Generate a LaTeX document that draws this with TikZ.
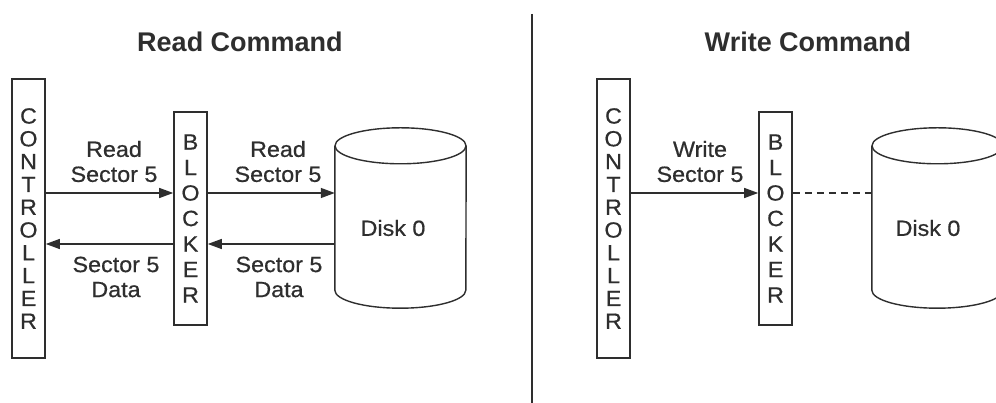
\documentclass[tikz,border=0pt]{standalone}
\usepackage{fontspec}
\setmainfont{Liberation Sans}
\newfontfamily\lblfont[FakeBold=0.6, FakeStretch=1.06]{Liberation Sans}
\usetikzlibrary{arrows.meta}
\definecolor{ink}{HTML}{2E2E2E}
\tikzset{
  lbl/.style={text=ink, font=\lblfont\fontsize{22}{25}\selectfont, align=center, inner sep=0pt},
  ttl/.style={text=ink, font=\bfseries\fontsize{27}{30}\selectfont, inner sep=0pt},
  ctrlbox/.style={draw=ink, line width=1.6pt, minimum width=33pt, minimum height=279pt, inner sep=0pt, align=center, text=ink, font=\lblfont\fontsize{22}{22.8}\selectfont},
  blkbox/.style={draw=ink, line width=1.6pt, minimum width=33pt, minimum height=213pt, inner sep=0pt, align=center, text=ink, font=\lblfont\fontsize{22}{25.5}\selectfont},
  diskbody/.style={minimum width=131pt, minimum height=144pt, inner sep=0pt},
  cyl/.style={draw=ink, line width=1.4pt},
  conn/.style={draw=ink, line width=1.3pt},
  arr/.style={conn, -{Triangle[length=14pt,width=10pt]}},
}
\begin{document}
\begin{tikzpicture}[x=1pt,y=1pt]
\clip (0,0) rectangle (996,403);
\fill[white] (0,0) rectangle (996,403);

% divider
\coordinate (divtop) at (532,389);
\coordinate (divbot) at (532,0);
\draw[conn, line width=1.5pt] (divtop) -- (divbot);

% ---------- Read command ----------
\node[ttl] (t1) at (240,361) {Read Command};
\node[ctrlbox] (c1) at (28.5,184.5) {C\\O\\N\\T\\R\\O\\L\\L\\E\\R};
\node[blkbox] (b1) at (190.5,184.5) {B\\L\\O\\C\\K\\E\\R};
\node[diskbody] (d1) at (400.5,185) {};
\draw[cyl] (d1.north west) -- (d1.south west) arc[start angle=180, end angle=360, x radius=65.5pt, y radius=18pt] -- (d1.north east);
\draw[cyl] (d1.north) ellipse[x radius=65.5pt, y radius=18pt];
\node[lbl] (dl1) at (393,175) {Disk 0};

\draw[arr] (c1.east |- 0,210) -- (b1.west |- 0,210);
\draw[arr] (b1.east |- 0,210) -- (d1.west |- 0,210);
\draw[arr] (b1.west |- 0,159) -- (c1.east |- 0,159);
\draw[arr] (d1.west |- 0,159) -- (b1.east |- 0,159);

\node[lbl] (l1) at (114,241.5) {Read\\Sector 5};
\node[lbl] (l2) at (278,241.5) {Read\\Sector 5};
\node[lbl] (l3) at (116,126) {Sector 5\\Data};
\node[lbl] (l4) at (279,126) {Sector 5\\Data};

% ---------- Write command ----------
\node[ttl] (t2) at (808,361) {Write Command};
\node[ctrlbox] (c2) at (613.5,184.5) {C\\O\\N\\T\\R\\O\\L\\L\\E\\R};
\node[blkbox] (b2) at (775.5,184.5) {B\\L\\O\\C\\K\\E\\R};
\node[diskbody] (d2) at (937.5,185) {};
\draw[cyl] (d2.north west) -- (d2.south west) arc[start angle=180, end angle=360, x radius=65.5pt, y radius=18pt] -- (d2.north east);
\draw[cyl] (d2.north) ellipse[x radius=65.5pt, y radius=18pt];
\node[lbl] (dl2) at (928,175) {Disk 0};

\draw[arr] (c2.east |- 0,210) -- (b2.west |- 0,210);
\draw[conn, dash pattern=on 7pt off 5pt] (b2.east |- 0,210) -- (d2.west |- 0,210);

\node[lbl] (l5) at (700,241.5) {Write\\Sector 5};
\end{tikzpicture}
\end{document}
